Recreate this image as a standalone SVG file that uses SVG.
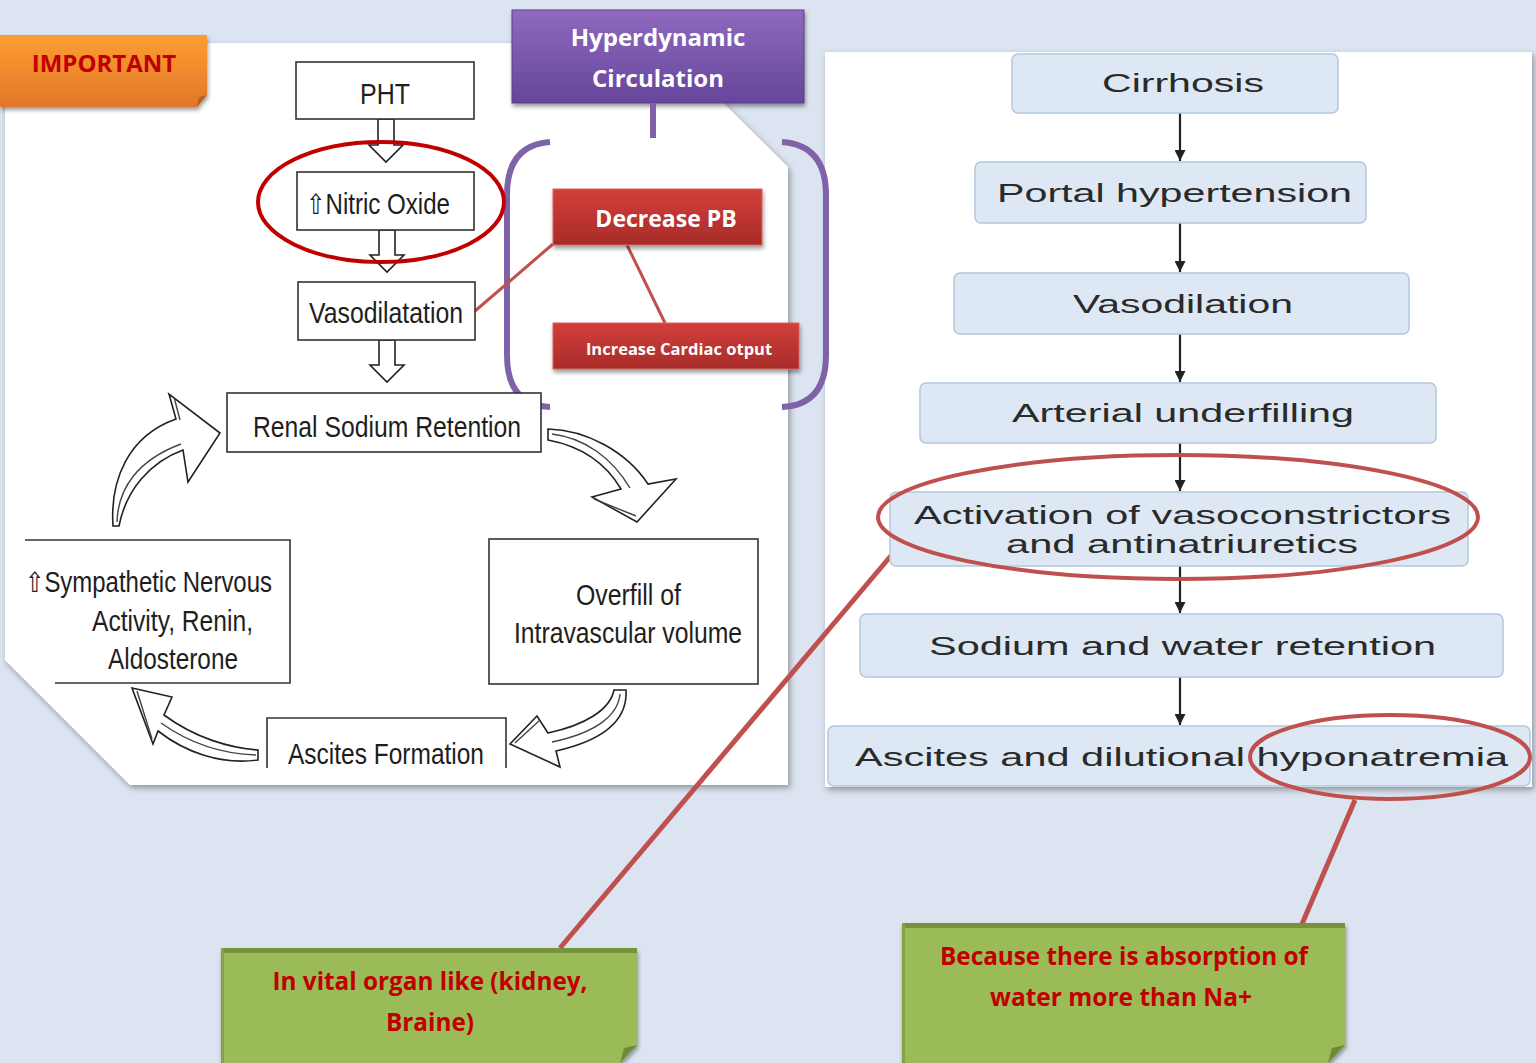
<svg xmlns="http://www.w3.org/2000/svg" width="1536" height="1063" viewBox="0 0 1536 1063">
<defs>
  <filter id="sh" x="-10%" y="-10%" width="120%" height="120%">
    <feDropShadow dx="2" dy="3" stdDeviation="3" flood-color="#000" flood-opacity="0.35"/>
  </filter>
  <filter id="sh2" x="-10%" y="-10%" width="120%" height="130%">
    <feDropShadow dx="1" dy="3" stdDeviation="2" flood-color="#000" flood-opacity="0.4"/>
  </filter>
  <linearGradient id="gOr" x1="0" y1="0" x2="0" y2="1">
    <stop offset="0" stop-color="#fd9d31"/><stop offset="1" stop-color="#e1772a"/>
  </linearGradient>
  <linearGradient id="gPu" x1="0" y1="0" x2="0" y2="1">
    <stop offset="0" stop-color="#8f6abf"/><stop offset="1" stop-color="#65459a"/>
  </linearGradient>
  <linearGradient id="gRd" x1="0" y1="0" x2="0" y2="1">
    <stop offset="0" stop-color="#d23f3b"/><stop offset="1" stop-color="#a82b29"/>
  </linearGradient>
  <marker id="ah" viewBox="0 0 10 10" refX="10" refY="5" markerWidth="11" markerHeight="11" markerUnits="userSpaceOnUse" orient="auto">
    <path d="M0,0 L10,5 L0,10 z" fill="#222"/>
  </marker>
  <style>
    .bx{fill:#fff;stroke:#333;stroke-width:1.6}
    .lt{font-family:"Liberation Sans",Arial,sans-serif;font-size:29px;fill:#1e1e1e}
    .up{font-family:"DejaVu Sans",sans-serif;font-size:28px}
    .rb{fill:#dde8f4;stroke:#b3c7de;stroke-width:1.5}
    .rt{font-family:"Liberation Sans",Arial,sans-serif;font-size:26px;fill:#2a2a2a}
    .ob{font-family:"Open Sans",sans-serif;font-weight:700}
    .ca{fill:#fff;stroke:#222;stroke-width:1.6;stroke-linejoin:miter}
    .cin{fill:none;stroke:#444;stroke-width:1.4}
    .head{fill:#fff;stroke:#222;stroke-width:1.6;stroke-linejoin:miter}
    .red{stroke:#c0504d;fill:none}
    .pur{stroke:#7f62a8;fill:none;stroke-width:6;stroke-linecap:butt}
    .rarr{stroke:#222;stroke-width:2.2;marker-end:url(#ah)}
    .gn{fill:#9bbb59}
    .gt{font-family:"Open Sans",sans-serif;font-weight:700;font-size:25px;fill:#c00000}
  </style>
</defs>
<rect width="1536" height="1063" fill="#dbe4f0"/>

<!-- panels -->
<g id="left-panel">
  <polygon points="5,43 663,43 788,167 788,785 130,785 5,660" fill="#fff" filter="url(#sh)"/>
</g>
<g id="right-panel">
  <rect x="825" y="52" width="707" height="735" fill="#fff" filter="url(#sh)"/>
</g>

<g id="important">
  <polygon points="0,35 207,35 207,95 197,107 0,107" fill="url(#gOr)" filter="url(#sh2)"/>
  <polygon points="197,107 199,97 207,95" fill="#b85f1f"/>
  <text x="104" y="72" text-anchor="middle" class="ob" font-size="24" fill="#c00000">IMPORTANT</text>
</g>

<g id="hyperdynamic">
  <rect x="512" y="10" width="292" height="93" fill="url(#gPu)" stroke="#5b3f8a" stroke-width="1" filter="url(#sh2)"/>
  <text x="658" y="46" text-anchor="middle" class="ob" font-size="24" fill="#fff">Hyperdynamic</text>
  <text x="658" y="87" text-anchor="middle" class="ob" font-size="24" fill="#fff">Circulation</text>
</g>

<g id="brackets">
  <path class="pur" d="M550,142 Q507,145 507,195 L507,355 Q507,405 550,407"/>
  <path class="pur" d="M782,142 Q826,145 826,195 L826,355 Q826,405 782,407"/>
</g>

<g id="connectors">
  <line class="pur" x1="653" y1="103" x2="653" y2="138"/>
  <line class="red" stroke-width="3" x1="553" y1="244" x2="475" y2="311"/>
  <line class="red" stroke-width="3" x1="627" y1="245" x2="665" y2="323"/>
  <line class="red" stroke-width="5" x1="900" y1="545" x2="560" y2="948"/>
  <line class="red" stroke-width="5" x1="1355" y1="800" x2="1302" y2="924"/>
  <!-- right flow arrows -->
  <line class="rarr" x1="1180" y1="113" x2="1180" y2="161"/>
  <line class="rarr" x1="1180" y1="223" x2="1180" y2="272"/>
  <line class="rarr" x1="1180" y1="334" x2="1180" y2="382"/>
  <line class="rarr" x1="1180" y1="443" x2="1180" y2="491"/>
  <line class="rarr" x1="1180" y1="566" x2="1180" y2="613"/>
  <line class="rarr" x1="1180" y1="677" x2="1180" y2="725"/>
  <!-- left straight hollow arrows -->
  <polygon class="head" points="378,119 394,119 394,145 403,145 386,162 369,145 378,145"/>
  <polygon class="head" points="379,230 395,230 395,255 404,255 387,272 370,255 379,255"/>
  <polygon class="head" points="379,340 395,340 395,365 404,365 387,382 370,365 379,365"/>
  <!-- curved hollow arrows -->
  <path class="ca" d="M113,526 C110,480 128,436 176,419 L169,394 L220,433 L188,482 L183,450 C150,462 126,490 119,526 Z"/>
  <path class="cin" d="M117,522 C118,488 138,460 181,444"/>
  <path class="cin" d="M174,397 L180,420"/>
  <path class="ca" d="M548,429 C586,430 626,451 648,484 L676,479 L637,522 L592,497 L621,489 C605,462 580,446 548,440 Z"/>
  <path class="cin" d="M552,434 C585,438 612,458 630,488"/>
  <path class="cin" d="M594,499 L636,516"/>
  <path class="ca" d="M626,690 C628,722 600,741 556,751 L560,767 L510,744 L537,716 L548,733 C585,725 610,710 614,690 Z"/>
  <path class="cin" d="M620,694 C618,716 595,733 552,742"/>
  <path class="cin" d="M515,743 L540,720"/>
  <path class="ca" d="M132,688 L172,697 L164,715 C195,738 230,748 258,750 L258,760 C220,765 185,752 158,731 L153,744 Z"/>
  <path class="cin" d="M161,723 C192,745 225,754 256,755"/>
  <path class="cin" d="M137,691 L152,739"/>
</g>

<!-- left flow nodes -->
<g id="pht">
  <rect class="bx" x="296" y="62" width="178" height="57"/>
  <text class="lt" x="385" y="104" text-anchor="middle" textLength="50" lengthAdjust="spacingAndGlyphs">PHT</text>
</g>
<g id="nitric-oxide">
  <rect class="bx" x="297" y="172" width="177" height="58"/>
  <text class="lt" x="306" y="214" textLength="144" lengthAdjust="spacingAndGlyphs"><tspan class="up">⇧</tspan>Nitric Oxide</text>
</g>
<g id="vasodilatation">
  <rect class="bx" x="298" y="282" width="177" height="58"/>
  <text class="lt" x="309" y="323" textLength="154" lengthAdjust="spacingAndGlyphs">Vasodilatation</text>
</g>
<g id="renal">
  <rect class="bx" x="227" y="393" width="314" height="59"/>
  <text class="lt" x="253" y="437" textLength="268" lengthAdjust="spacingAndGlyphs">Renal Sodium Retention</text>
</g>
<g id="sympathetic">
  <path d="M25,540 L290,540 L290,683 L55,683" fill="#fff" stroke="#333" stroke-width="1.6"/>
  <text class="lt" x="25" y="592" textLength="247" lengthAdjust="spacingAndGlyphs"><tspan class="up">⇧</tspan>Sympathetic Nervous</text>
  <text class="lt" x="92" y="631" textLength="161" lengthAdjust="spacingAndGlyphs">Activity, Renin,</text>
  <text class="lt" x="108" y="669" textLength="130" lengthAdjust="spacingAndGlyphs">Aldosterone</text>
</g>
<g id="overfill">
  <rect class="bx" x="489" y="539" width="269" height="145"/>
  <text class="lt" x="576" y="605" textLength="105" lengthAdjust="spacingAndGlyphs">Overfill of</text>
  <text class="lt" x="514" y="643" textLength="228" lengthAdjust="spacingAndGlyphs">Intravascular volume</text>
</g>
<g id="ascites-formation">
  <path d="M267,768 L267,718 L506,718 L506,768" fill="#fff" stroke="#333" stroke-width="1.6"/>
  <text class="lt" x="288" y="764" textLength="196" lengthAdjust="spacingAndGlyphs">Ascites Formation</text>
</g>
<ellipse cx="381" cy="202" rx="123" ry="60" fill="none" stroke="#c00000" stroke-width="4"/>

<!-- red boxes -->
<g id="decrease-pb">
  <rect x="553" y="189" width="209" height="56" fill="url(#gRd)" stroke="#d9625e" stroke-width="1" filter="url(#sh2)"/>
  <text x="666" y="227" text-anchor="middle" class="ob" font-size="23" fill="#fff">Decrease PB</text>
</g>
<g id="increase-co">
  <rect x="553" y="323" width="246" height="46" fill="url(#gRd)" stroke="#d9625e" stroke-width="1" filter="url(#sh2)"/>
  <text x="679" y="355" text-anchor="middle" class="ob" font-size="16.5" fill="#fff">Increase Cardiac otput</text>
</g>

<!-- right flow nodes -->
<g id="cirrhosis">
  <rect class="rb" x="1012" y="54" width="326" height="59" rx="6"/>
  <text class="rt" x="1102" y="92" textLength="162" lengthAdjust="spacingAndGlyphs">Cirrhosis</text>
</g>
<g id="portal">
  <rect class="rb" x="975" y="162" width="391" height="61" rx="6"/>
  <text class="rt" x="997" y="202" textLength="355" lengthAdjust="spacingAndGlyphs">Portal hypertension</text>
</g>
<g id="vasodilation">
  <rect class="rb" x="954" y="273" width="455" height="61" rx="6"/>
  <text class="rt" x="1073" y="313" textLength="220" lengthAdjust="spacingAndGlyphs">Vasodilation</text>
</g>
<g id="arterial">
  <rect class="rb" x="920" y="383" width="516" height="60" rx="6"/>
  <text class="rt" x="1012" y="422" textLength="342" lengthAdjust="spacingAndGlyphs">Arterial underfilling</text>
</g>
<g id="activation">
  <rect class="rb" x="890" y="492" width="578" height="74" rx="6"/>
  <text class="rt" x="914" y="524" textLength="537" lengthAdjust="spacingAndGlyphs">Activation of vasoconstrictors</text>
  <text class="rt" x="1006" y="553" textLength="352" lengthAdjust="spacingAndGlyphs">and antinatriuretics</text>
</g>
<g id="sodium-water">
  <rect class="rb" x="860" y="614" width="643" height="63" rx="6"/>
  <text class="rt" x="929" y="655" textLength="507" lengthAdjust="spacingAndGlyphs">Sodium and water retention</text>
</g>
<g id="ascites-hypo">
  <rect class="rb" x="828" y="726" width="702" height="60" rx="6"/>
  <text class="rt" x="855" y="766" textLength="653" lengthAdjust="spacingAndGlyphs">Ascites and dilutional hyponatremia</text>
</g>
<ellipse cx="1178" cy="517" rx="300" ry="62" fill="none" stroke="#c0504d" stroke-width="4"/>
<ellipse cx="1390" cy="757" rx="140" ry="42" fill="none" stroke="#c0504d" stroke-width="4"/>

<!-- green notes -->
<g id="note-vital">
  <polygon class="gn" points="221,948 637,948 637,1045 620,1063 221,1063" filter="url(#sh2)"/>
  <rect x="221" y="948" width="416" height="5" fill="#76923c"/>
  <rect x="221" y="948" width="3" height="115" fill="#86a244"/>
  <polygon points="620,1063 624,1048 637,1045" fill="#6e8a34"/>
  <text class="gt" x="430" y="990" text-anchor="middle" textLength="315" lengthAdjust="spacingAndGlyphs">In vital organ like (kidney,</text>
  <text class="gt" x="430" y="1031" text-anchor="middle" textLength="88" lengthAdjust="spacingAndGlyphs">Braine)</text>
</g>
<g id="note-absorption">
  <polygon class="gn" points="902,923 1345,923 1345,1045 1328,1063 902,1063" filter="url(#sh2)"/>
  <rect x="902" y="923" width="443" height="5" fill="#76923c"/>
  <rect x="902" y="923" width="3" height="140" fill="#86a244"/>
  <polygon points="1328,1063 1332,1048 1345,1045" fill="#6e8a34"/>
  <text class="gt" x="1124" y="965" text-anchor="middle" textLength="368" lengthAdjust="spacingAndGlyphs">Because there is absorption of</text>
  <text class="gt" x="1121" y="1006" text-anchor="middle" textLength="262" lengthAdjust="spacingAndGlyphs">water more than Na+</text>
</g>
</svg>
